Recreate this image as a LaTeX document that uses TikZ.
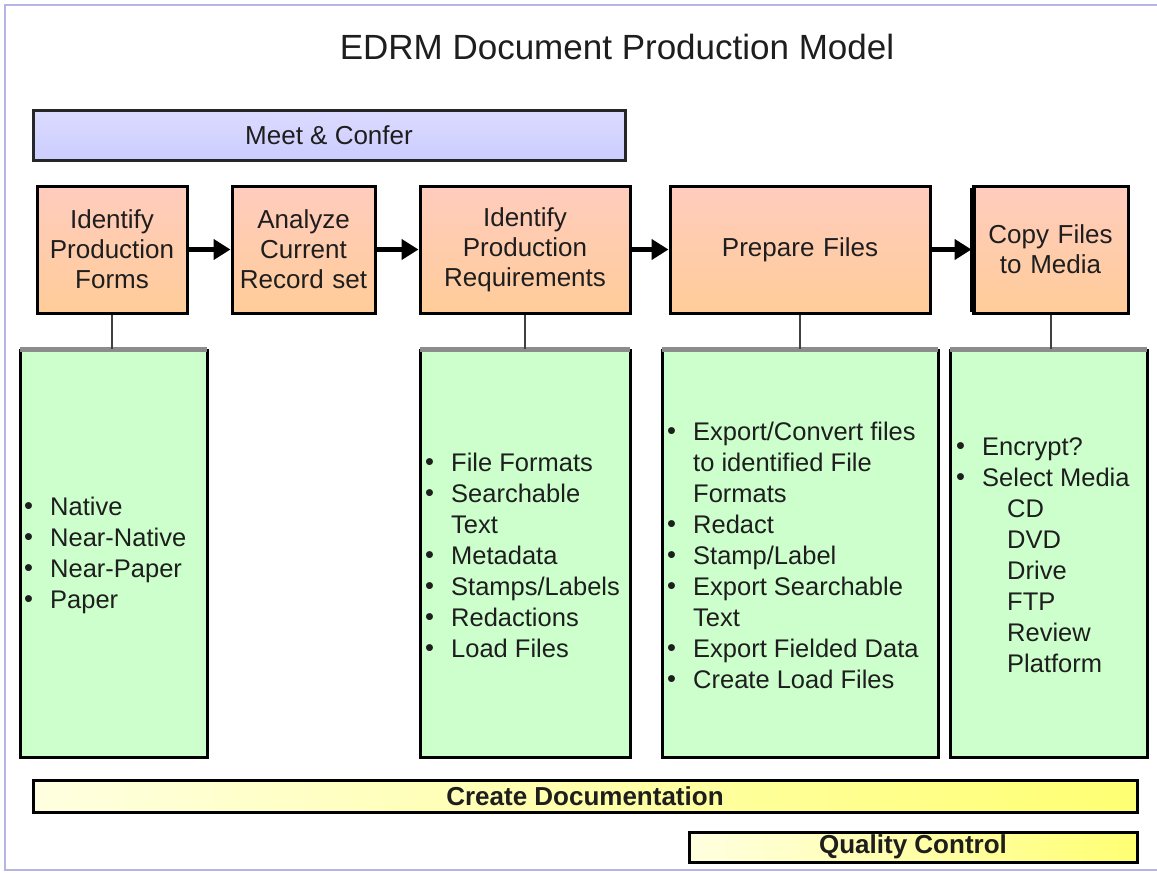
\documentclass[tikz,border=0pt]{standalone}
\usepackage{fontspec}
\setmainfont{Liberation Sans}
\usetikzlibrary{arrows.meta}
\definecolor{orangetop}{HTML}{FFCCBE}
\definecolor{orangebot}{HTML}{FFCC99}
\definecolor{greenfill}{HTML}{CCFFCC}
\definecolor{lavender}{HTML}{CCCCFF}
\definecolor{framecol}{HTML}{B4B4E6}
\definecolor{textdark}{HTML}{1E1E1E}
\newcommand{\itembul}{\makebox[26pt][l]{\raisebox{1pt}{\textbullet}}}
\newcommand{\itemcont}{\hspace*{26pt}}
\tikzset{
  orangebox/.style={draw=black, line width=3pt, top color=orangetop, bottom color=orangebot,
    minimum height=127, inner sep=0pt, align=center, text=textdark,
    font=\fontsize{26}{30}\selectfont},
  greenbox/.style={draw=black, line width=3pt, fill=greenfill, minimum height=407, inner sep=0pt},
  greentext/.style={anchor=west, align=left, inner sep=0pt, text=textdark,
    font=\fontsize{25.5}{31}\selectfont},
  flowarrow/.style={line width=4.5pt, -{Triangle[length=17pt,width=20pt]}},
  linkline/.style={draw=black!75, line width=2pt},
  yellowbar/.style={draw=black, line width=3pt, left color=yellow!12, right color=yellow!55,
    inner sep=0pt, font=\bfseries\fontsize{26}{30}\selectfont, text=textdark},
}
\begin{document}
\begin{tikzpicture}[x=1pt,y=-1pt]
\useasboundingbox (0,0) rectangle (1157,873);
\fill[white] (0,0) rectangle (1157,873);
% frame
\draw[framecol, line width=1.2pt] (1157,5) -- (5,5) -- (5,870) -- (1157,870);

% title
\node[text=textdark, font=\fontsize{35}{40}\selectfont] (title) at (617,47) {EDRM Document Production Model};

% meet & confer
\node[draw=black!85, line width=3pt, top color=lavender!70, bottom color=lavender, minimum width=592, minimum height=50,
  inner sep=0pt, text=textdark, font=\fontsize{26}{30}\selectfont] (meet) at (329,135) {Meet \& Confer};

% orange process boxes
\node[orangebox, minimum width=150, text width=146] (b1) at (112,249.5) {Identify\\Production\\Forms};
\node[orangebox, minimum width=143, text width=140] (b2) at (303.5,249.5) {Analyze\\Current\\Record set};
\node[orangebox, minimum width=210, text width=206] (b3) at (525,249.5) {\raisebox{-1.5pt}{\parbox{206pt}{\centering Identify\\Production\\Requirements}}};
\node[orangebox, minimum width=260, text width=256] (b4) at (800,249.5) {Prepare Files};
\node[orangebox, minimum width=155, text width=150] (b5) at (1050.5,249.5) {Copy Files\\to Media};
\draw[black, line width=6pt] (973,187.5) -- (973,311.5);

% arrows
\draw[flowarrow] (b1.east) -- (b2.west);
\draw[flowarrow] (b2.east) -- (b3.west);
\draw[flowarrow] (b3.east) -- (b4.west);
\draw[flowarrow] (b4.east) -- (b5.west);

% green boxes
\node[greenbox, minimum width=187] (g1) at (113.5,553.5) {};
\node[greenbox, minimum width=210] (g3) at (525,553.5) {};
\node[greenbox, minimum width=276] (g4) at (800,553.5) {};
\node[greenbox, minimum width=197] (g5) at (1048.5,553.5) {};
\foreach \g in {g1,g3,g4,g5}{
  \draw[black!45, line width=5pt] ([xshift=1.5pt,yshift=-1pt]\g.north west) -- ([xshift=-1.5pt,yshift=-1pt]\g.north east);
}

% connectors
\draw[linkline] (b1.south) -- (b1.south |- g1.north);
\draw[linkline] (b3.south) -- (b3.south |- g3.north);
\draw[linkline] (b4.south) -- (b4.south |- g4.north);
\draw[linkline] (b5.south) -- (b5.south |- g5.north);

% green texts
\node[greentext] (t1) at (24,555) {\itembul Native\\\itembul Near-Native\\\itembul Near-Paper\\\itembul Paper};
\node[greentext] (t3) at (425,555) {\itembul File Formats\\\itembul Searchable\\\itemcont Text\\\itembul Metadata\\\itembul Stamps/Labels\\\itembul Redactions\\\itembul Load Files};
\node[greentext] (t4) at (667,555) {\itembul Export/Convert files\\\itemcont to identified File\\\itemcont Formats\\\itembul Redact\\\itembul Stamp/Label\\\itembul Export Searchable\\\itemcont Text\\\itembul Export Fielded Data\\\itembul Create Load Files};
\node[greentext] (t5) at (956,555) {\itembul Encrypt?\\\itembul Select Media\\\itemcont\hspace*{25pt}CD\\\itemcont\hspace*{25pt}DVD\\\itemcont\hspace*{25pt}Drive\\\itemcont\hspace*{25pt}FTP\\\itemcont\hspace*{25pt}Review\\\itemcont\hspace*{25pt}Platform};

% bottom bars
\node[yellowbar, minimum width=1104, minimum height=32] (doc) at (585,796) {Create Documentation};
\node[yellowbar, minimum width=448, minimum height=30] (qc) at (913,847) {Quality Control};
\end{tikzpicture}
\end{document}
